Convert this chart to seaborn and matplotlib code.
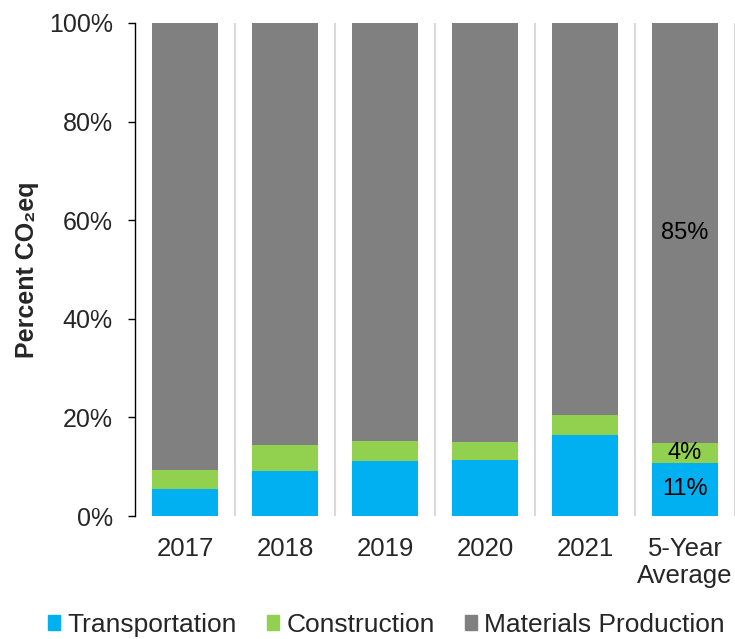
import numpy as np
import pandas as pd
import matplotlib
matplotlib.use('Agg')
import matplotlib.pyplot as plt
from matplotlib.patches import Patch
import seaborn as sns

sns.set_style('white')
plt.rcParams['font.family'] = ['Liberation Sans', 'DejaVu Sans']

# data (percent of CO2eq)
years = ['2017', '2018', '2019', '2020', '2021', '5-Year\nAverage']
transport = [5.5, 9.1, 11.2, 11.3, 16.4, 10.8]
construction = [3.8, 5.3, 4.0, 3.8, 4.1, 4.1]
materials = [90.7, 85.6, 84.8, 84.9, 79.5, 85.1]

c_trans = '#00B0F0'
c_const = '#92D050'
c_mat = '#808080'

df = pd.DataFrame({'year': years, 'Transportation': transport,
                   'Construction': construction, 'Materials Production': materials})
df['top_const'] = df['Transportation'] + df['Construction']
df['top_mat'] = df['top_const'] + df['Materials Production']

fig = plt.figure(figsize=(7.35, 6.39), dpi=100)
ax = fig.add_axes([135/735, 1-516/639, 600/735, 493/639])

# stacked bars drawn as overlaid cumulative layers
sns.barplot(data=df, x='year', y='top_mat', color=c_mat, width=0.66, saturation=1, linewidth=0, ax=ax)
sns.barplot(data=df, x='year', y='top_const', color=c_const, width=0.66, saturation=1, linewidth=0, ax=ax)
sns.barplot(data=df, x='year', y='Transportation', color=c_trans, width=0.66, saturation=1, linewidth=0, ax=ax)

# segment labels on the 5-year average bar
last = len(years) - 1
mids = [transport[last]/2,
        transport[last] + construction[last]/2,
        transport[last] + construction[last] + materials[last]/2]
for m, v in zip(mids, [transport[last], construction[last], materials[last]]):
    ax.text(last, m, '%d%%' % round(v), ha='center', va='center', fontsize=17, color='black')

ax.set_ylim(0, 100)
ax.set_xlim(-0.5, len(years) - 0.5)
ax.set_yticks(np.arange(0, 101, 20))
ax.set_yticklabels(['%d%%' % t for t in np.arange(0, 101, 20)])
ax.set_xticks(np.arange(len(years)) + 0.5, minor=True)
ax.grid(False)
ax.grid(True, which='minor', axis='x', color='#D9D9D9', linewidth=1.5)
ax.tick_params(axis='y', which='major', length=5, width=1, color='black', direction='out',
               labelsize=18, pad=11, left=True)
ax.tick_params(axis='x', which='both', length=0, labelsize=18.5, pad=15)
for lab in ax.get_xticklabels():
    lab.set_linespacing(1.15)
for s in ['top', 'right', 'bottom']:
    ax.spines[s].set_visible(False)
ax.spines['left'].set_color('black')
ax.spines['left'].set_linewidth(1)

ax.set_xlabel('')
ax.set_ylabel('Percent CO\u2082eq', fontsize=18, fontweight='bold', labelpad=7)

handles = [Patch(color=c_trans, label='Transportation'),
           Patch(color=c_const, label='Construction'),
           Patch(color=c_mat, label='Materials Production')]
fig.legend(handles=handles, loc='center left', bbox_to_anchor=(48/735, 1-625/639),
           ncol=3, frameon=False, fontsize=19, handlelength=0.46, handleheight=0.52,
           handletextpad=0.27, columnspacing=1.15, borderpad=0, borderaxespad=0)

fig.savefig('out.png', dpi=100)
